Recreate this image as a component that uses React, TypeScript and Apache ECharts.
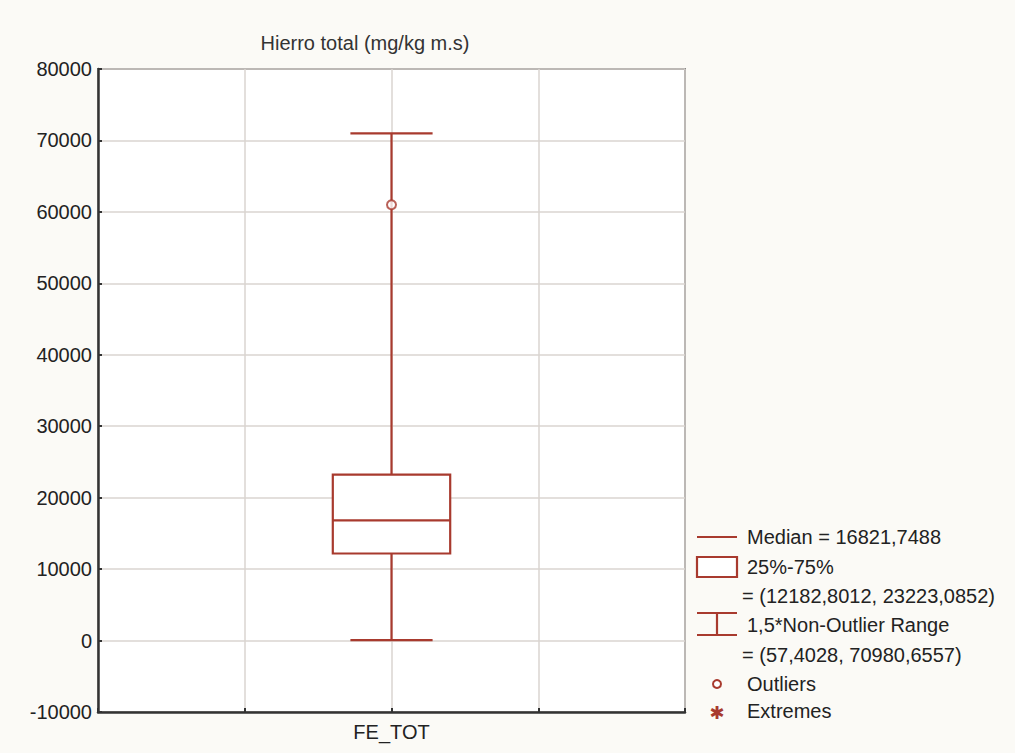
import React, { useEffect, useRef } from "react";
import * as echarts from "echarts";

const categories = ["FE_TOT"];
const categoryPos = [2];
const whiskerLow = [57.4028];
const q1 = [12182.8012];
const median = [16821.7488];
const q3 = [23223.0852];
const whiskerHigh = [70980.6557];
const outliers = [[2, 61000]];
const yTicks = { min: -10000, max: 80000, interval: 10000 };

const RED = "#a83a2e";
const FONT = "'Liberation Sans', Arial, sans-serif";
const FS = 20;
const fmt = (v: number) => String(v).replace(".", ",");

export default function App() {
  const ref = useRef<HTMLDivElement>(null);
  useEffect(() => {
    document.body.style.margin = "0";
    const chart = echarts.init(ref.current!, null, { renderer: "svg" });
    const boxData = categoryPos.map((p, i) => [p, whiskerLow[i], q1[i], median[i], q3[i], whiskerHigh[i]]);
    const legendX = 697;
    const textX = 747;
    const ts = (text: string, x: number, y: number) => ({
      type: "text",
      x,
      y,
      style: { text, fill: "#222", font: `${FS}px ${FONT}`, textVerticalAlign: "middle" },
    });
    const lineStyle = { stroke: RED, lineWidth: 2.2 };
    chart.setOption({
      animation: false,
      backgroundColor: "#fbfaf6",
      title: {
        text: "Hierro total (mg/kg m.s)",
        left: 360,
        top: 28,
        textAlign: "center",
        textStyle: { fontFamily: FONT, fontSize: 20, fontWeight: "normal", color: "#333" },
      },
      grid: {
        left: 98,
        top: 69,
        width: 587,
        height: 643,
        show: true,
        backgroundColor: "#ffffff",
        borderColor: "#333",
        borderWidth: 1.5,
      },
      xAxis: {
        type: "value",
        min: 0,
        max: 4,
        interval: 1,
        axisLine: { show: true, onZero: false, lineStyle: { color: "#333", width: 2.5 } },
        axisTick: { show: true, inside: true, length: 4, lineStyle: { color: "#333", width: 2 } },
        splitLine: { show: true, lineStyle: { color: "#dad4d1", width: 1.5 } },
        axisLabel: {
          formatter: (v: number) => {
            const i = categoryPos.indexOf(v);
            return i >= 0 ? categories[i] : "";
          },
          fontFamily: FONT,
          fontSize: FS,
          color: "#222",
          margin: 10,
          showMinLabel: true,
          showMaxLabel: true,
        },
      },
      yAxis: {
        type: "value",
        min: yTicks.min,
        max: yTicks.max,
        interval: yTicks.interval,
        axisLine: { show: true, lineStyle: { color: "#333", width: 2.5 } },
        axisTick: { show: true, inside: true, length: 4, lineStyle: { color: "#333", width: 2 } },
        splitLine: { show: true, lineStyle: { color: "#dad4d1", width: 1.5 } },
        axisLabel: {
          formatter: (v: number) => String(v),
          fontFamily: FONT,
          fontSize: FS,
          color: "#222",
          margin: 6,
          verticalAlign: "middle",
          padding: [0, 0, 7, 0],
        },
      },
      series: [
        {
          type: "custom",
          data: boxData,
          encode: { x: 0, y: [1, 2, 3, 4, 5] },
          renderItem: (params: any, api: any) => {
            const x = api.value(0);
            const unit = api.size([1, 0])[0];
            const bw = unit * 0.4;
            const cw = unit * 0.28;
            const pLow = api.coord([x, api.value(1)]);
            const pQ1 = api.coord([x, api.value(2)]);
            const pMed = api.coord([x, api.value(3)]);
            const pQ3 = api.coord([x, api.value(4)]);
            const pHigh = api.coord([x, api.value(5)]);
            const cx = pLow[0];
            const st = { stroke: RED, lineWidth: 2.2, fill: null };
            return {
              type: "group",
              children: [
                { type: "line", shape: { x1: cx, y1: pLow[1], x2: cx, y2: pQ1[1] }, style: st },
                { type: "line", shape: { x1: cx, y1: pQ3[1], x2: cx, y2: pHigh[1] }, style: st },
                { type: "line", shape: { x1: cx - cw, y1: pLow[1], x2: cx + cw, y2: pLow[1] }, style: st },
                { type: "line", shape: { x1: cx - cw, y1: pHigh[1], x2: cx + cw, y2: pHigh[1] }, style: st },
                {
                  type: "rect",
                  shape: { x: cx - bw, y: pQ3[1], width: bw * 2, height: pQ1[1] - pQ3[1] },
                  style: { stroke: RED, lineWidth: 2.2, fill: "#ffffff" },
                },
                { type: "line", shape: { x1: cx - bw, y1: pMed[1], x2: cx + bw, y2: pMed[1] }, style: st },
              ],
            };
          },
          z: 3,
        },
        {
          type: "scatter",
          data: outliers,
          symbol: "circle",
          symbolSize: 9,
          itemStyle: { color: "#ffffff", borderColor: RED, borderWidth: 2 },
          z: 5,
        },
      ],
      graphic: [
        { type: "line", shape: { x1: legendX, y1: 537, x2: legendX + 40, y2: 537 }, style: lineStyle },
        ts(`Median = ${fmt(median[0])}`, textX, 537),
        {
          type: "rect",
          shape: { x: legendX, y: 557, width: 40, height: 20 },
          style: { stroke: RED, lineWidth: 2.2, fill: "#fff" },
        },
        ts("25%-75%", textX, 567),
        ts(`= (${fmt(q1[0])}, ${fmt(q3[0])})`, 742, 596),
        { type: "line", shape: { x1: legendX, y1: 613, x2: legendX + 40, y2: 613 }, style: lineStyle },
        { type: "line", shape: { x1: legendX, y1: 635, x2: legendX + 40, y2: 635 }, style: lineStyle },
        { type: "line", shape: { x1: legendX + 20, y1: 613, x2: legendX + 20, y2: 635 }, style: lineStyle },
        ts("1,5*Non-Outlier Range", textX, 625),
        ts(`= (${fmt(whiskerLow[0])}, ${fmt(whiskerHigh[0])})`, 742, 655),
        {
          type: "circle",
          shape: { cx: 717, cy: 684, r: 4 },
          style: { stroke: RED, lineWidth: 2, fill: "#fff" },
        },
        ts("Outliers", textX, 684),
        {
          type: "text",
          x: 717,
          y: 712,
          style: { text: "✱", fill: RED, font: `18px 'DejaVu Sans'`, textAlign: "center", textVerticalAlign: "middle" },
        },
        ts("Extremes", textX, 711),
      ],
    });
    return () => chart.dispose();
  }, []);
  return <div ref={ref} style={{ width: 1015, height: 753 }} />;
}
